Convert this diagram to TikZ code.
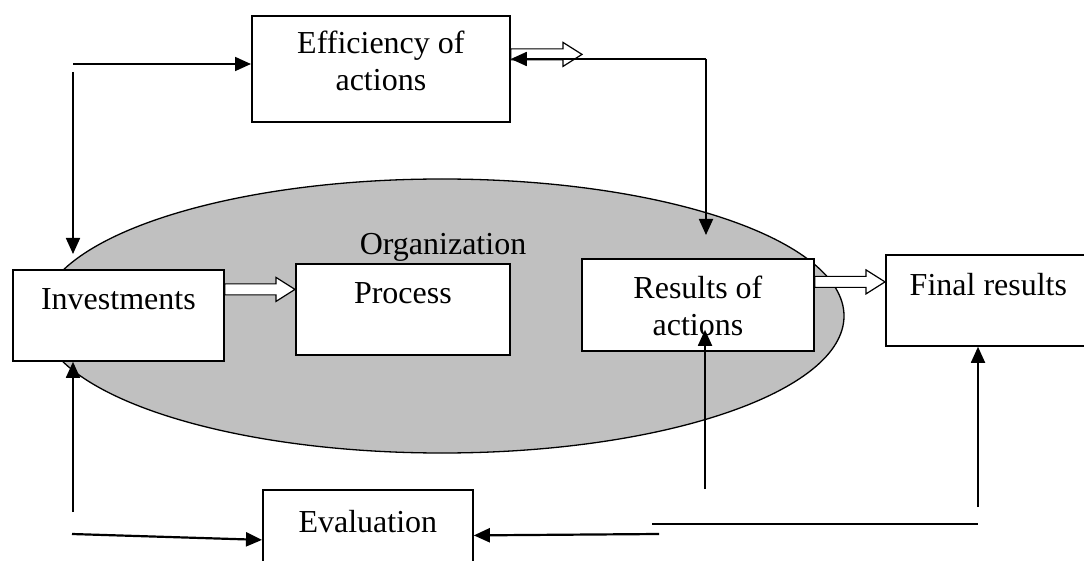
\documentclass[tikz,border=0pt]{standalone}
\usepackage{fontspec}
\setmainfont{Liberation Serif}
\usetikzlibrary{arrows.meta, shapes.geometric, calc}
\definecolor{orggrey}{HTML}{C0C0C0}
\tikzset{
  every picture/.style={line width=1.8pt},
  every node/.style={font=\fontsize{32}{37}\selectfont},
  box/.style={draw, fill=white, anchor=north west, inner sep=0pt, align=center},
  conn/.style={-{Triangle[length=16pt, width=14pt]}, line width=1.8pt},
  blockarrow/.style={draw, fill=white, line width=1.2pt, to path={
    let \p1=(\tikztostart), \p2=(\tikztotarget) in
    (\x1,\y1+5.5pt) -- (\x2-19pt,\y1+5.5pt) -- (\x2-19pt,\y1+12pt) -- (\x2,\y1)
    -- (\x2-19pt,\y1-12pt) -- (\x2-19pt,\y1-5.5pt) -- (\x1,\y1-5.5pt) -- cycle}},
}

\begin{document}
\begin{tikzpicture}[x=1pt, y=-1pt]
  \clip (0,0) rectangle (1084,561);
  % the organization
  \node[ellipse, draw, line width=1.3pt, fill=orggrey, minimum width=804pt, minimum height=274pt] (org) at (442,316) {};
  \node[anchor=base] (orgtext) at (443,255) {Organization};
  % boxes
  \node[box, minimum width=258pt, text height=75pt, text depth=31pt] (eff) at (251,15) {Efficiency of\\actions};
  \node[box, minimum width=211pt, text height=40pt, text depth=51pt] (inv) at (12,269) {Investments};
  \node[box, minimum width=214pt, text height=40pt, text depth=51pt] (proc) at (295,263) {Process};
  \node[box, minimum width=232pt, text height=77pt, text depth=15pt] (res) at (581,258) {Results of\\actions};
  \node[box, minimum width=205pt, text height=41pt, text depth=50pt] (fin) at (885,254) {Final results};
  \node[box, minimum width=210pt, text height=43pt, text depth=48pt] (eval) at (262,489) {Evaluation};
  % free ends
  \coordinate (tl) at (73,64);
  \coordinate (tlv) at (73,72);
  \coordinate (tr) at (706,59);
  \coordinate (effout) at (582,53.5);
  \coordinate (bl) at (73,512);
  \coordinate (bla) at (72,534);
  \coordinate (brv) at (659,534);
  \coordinate (hl1) at (652,524);
  \coordinate (hl2) at (978,524);
  \coordinate (rv) at (705,489);
  \coordinate (fv) at (978,507);
  % block arrows
  \draw[blockarrow] ([yshift=14.5pt]eff.east) to (effout);
  \draw[blockarrow] ([yshift=26pt]inv.east) to (proc.west);
  \draw[blockarrow] ([yshift=23pt]res.east) to (fin.west);
  % feedback lines
  \draw[conn] (tl) -- (tl -| eff.west);
  \draw[conn, shorten >=15pt] (tlv) -- (tlv |- inv.north);
  \draw[conn] (tr) -- (tr -| eff.east);
  \draw[conn, shorten >=23pt] (tr) -- (tr |- res.north);
  \draw[conn] (bl) -- (bl |- inv.south);
  \draw[conn, line width=2.2pt] (bla) -- ([yshift=-4.5pt]eval.west);
  \draw[conn, line width=2.2pt] (brv) -- (eval.east);
  \draw[line width=2.2pt] (hl1) -- (hl2);
  \draw[conn, shorten >=-22pt] (rv) -- (rv |- res.south);
  \draw[conn] (fv) -- (fv |- fin.south);
\end{tikzpicture}
\end{document}
